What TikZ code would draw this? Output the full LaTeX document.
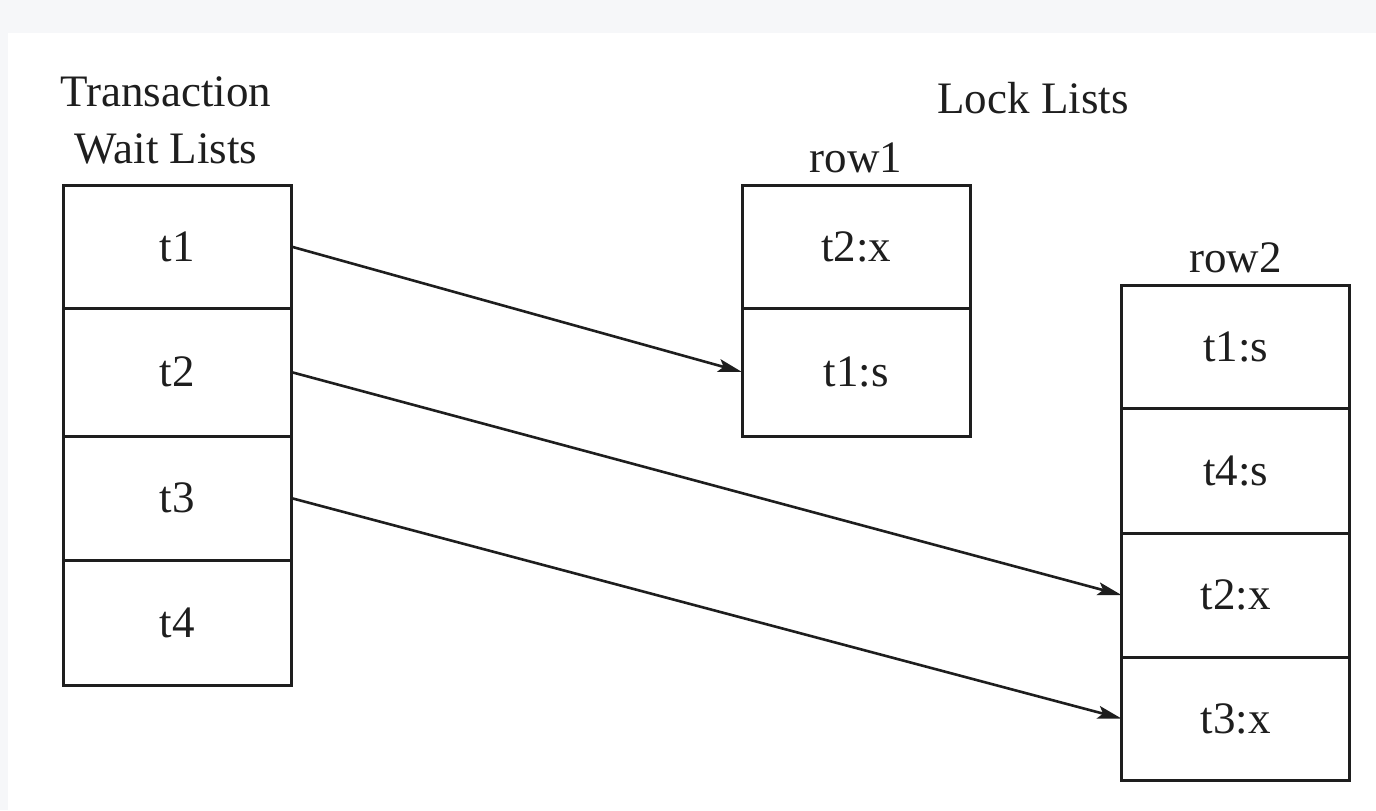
\documentclass[tikz,border=0pt]{standalone}
\usepackage{fontspec}
\setmainfont{Liberation Serif}
\usetikzlibrary{positioning, arrows.meta}
\definecolor{pagegray}{HTML}{F6F7F9}
\definecolor{ink}{HTML}{1E1E1E}
\tikzset{
    cell/.style={draw=ink, line width=1.5pt, minimum width=114pt, minimum height=62pt,
        inner sep=0pt, outer sep=0pt, text=ink},
    caption/.style={inner sep=0pt, text=ink, align=center},
    ptr/.style={draw=ink, line width=1.3pt, -{Stealth[length=12pt, width=6.5pt, inset=2.5pt]}}
}
\begin{document}
\begin{tikzpicture}[x=0.5pt, y=-0.5pt, font=\fontsize{22.5}{28.5}\selectfont]
        % Page: grey band top and left
        \fill[pagegray] (0,0) rectangle (1376,810);
        \fill[white] (8,33) rectangle (1376,810);

        % Transaction wait lists
        \node[cell, minimum height=61.5pt] (w1) at (177,246.5) {t1};
        \node[cell, minimum height=64pt, below=0pt of w1] (w2) {t2};
        \node[cell, below=0pt of w2] (w3) {t3};
        \node[cell, minimum height=62.5pt, below=0pt of w3] (w4) {t4};
        \node[caption, above=10pt of w1, xshift=-5.5pt] (wcap) {Transaction\\Wait Lists};

        % Lock list of row1
        \node[cell, minimum height=61.5pt] (a1) at (856,246.5) {t2:x};
        \node[cell, minimum height=64pt, below=0pt of a1] (a2) {t1:s};
        \node[caption, above=6pt of a1] (acap) {row1};

        % Lock list of row2
        \node[cell, minimum height=61.5pt] (b1) at (1235.5,346.5) {t1:s};
        \node[cell, minimum height=62.5pt, below=0pt of b1] (b2) {t4:s};
        \node[cell, below=0pt of b2] (b3) {t2:x};
        \node[cell, minimum height=61.5pt, below=0pt of b3] (b4) {t3:x};
        \node[caption, above=6pt of b1] (bcap) {row2};

        \node[caption, anchor=base] (lcap) at (1033,113) {Lock Lists};

        % Waiting transactions point to their lock entries
        \draw[ptr] (w1.east) -- (a2.west);
        \draw[ptr] (w2.east) -- (b3.west);
        \draw[ptr] (w3.east) -- (b4.west);
    \end{tikzpicture}
\end{document}
